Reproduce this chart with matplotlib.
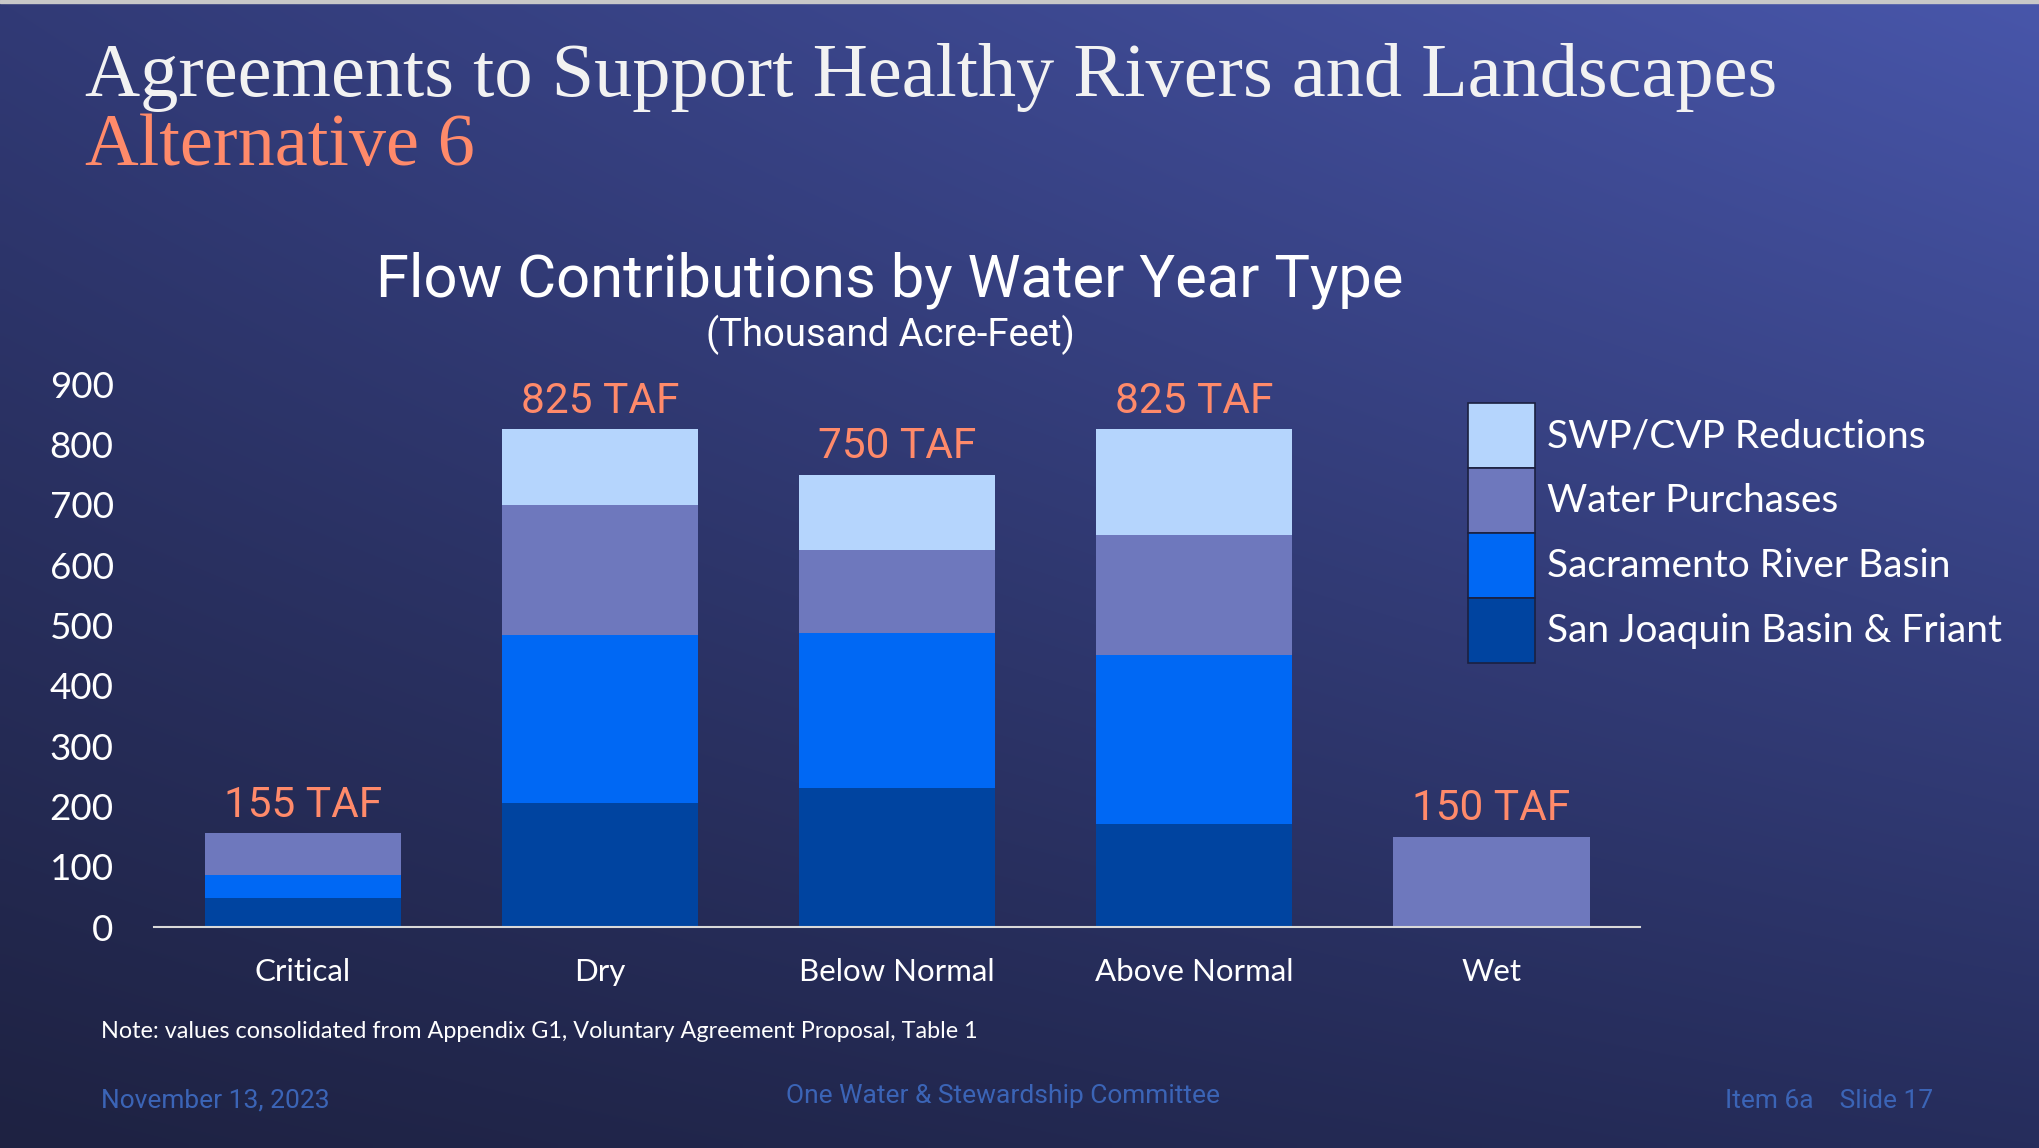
import numpy as np
import matplotlib
matplotlib.use("Agg")
import matplotlib.pyplot as plt
from matplotlib.patches import Patch

# data (thousand acre-feet)
categories = ['Critical', 'Dry', 'Below Normal', 'Above Normal', 'Wet']
san_joaquin = [48, 206, 231, 171, 0]
sacramento = [38, 278, 256, 280, 0]
purchases = [69, 216, 138, 199, 150]
reductions = [0, 125, 125, 175, 0]
total_labels = ['155 TAF', '825 TAF', '750 TAF', '825 TAF', '150 TAF']
yticks = [0, 100, 200, 300, 400, 500, 600, 700, 800, 900]

series_names = ['San Joaquin Basin & Friant', 'Sacramento River Basin',
                'Water Purchases', 'SWP/CVP Reductions']
series_colors = ['#0044A0', '#0068F4', '#6E78BD', '#B5D5FD']

salmon = '#FF8A6A'
footer_blue = '#3B64B6'

fig = plt.figure(figsize=(20.4, 11.48), dpi=100)

# gradient background
bg = fig.add_axes([0, 0, 1, 1], zorder=-10)
bg.axis('off')
c_bl = np.array([0x1E, 0x22, 0x42]) / 255
c_br = np.array([0x26, 0x2D, 0x5C]) / 255
c_tl = np.array([0x31, 0x3A, 0x76]) / 255
c_tr = np.array([0x48, 0x56, 0xAA]) / 255
u = np.linspace(0, 1, 256)[None, :, None]
v = np.linspace(1, 0, 144)[:, None, None]
img = (c_bl * (1 - u) * (1 - v) + c_br * u * (1 - v)
       + c_tl * (1 - u) * v + c_tr * u * v)
bg.imshow(img, aspect='auto', extent=[0, 1, 0, 1], interpolation='bilinear')
bg.set_xlim(0, 1)
bg.set_ylim(0, 1)
bg.axhspan(0.9975, 1.0, color='#C8C8C8')

# slide titles
fig.text(0.0417, 0.916, 'Agreements to Support Healthy Rivers and Landscapes',
         family='Liberation Serif', fontsize=55, color='#F2F2F2', va='baseline')
fig.text(0.0417, 0.856, 'Alternative 6', family='Liberation Serif',
         fontsize=53.5, color=salmon, va='baseline')

fig.text(0.4363, 0.742, 'Flow Contributions by Water Year Type', family='Roboto',
         fontsize=43, color='white', ha='center', va='baseline')
fig.text(0.4363, 0.7087, '(Thousand Acre-Feet)', family='Roboto',
         fontsize=27.5, color='white', ha='center', va='center')

# chart
ax = fig.add_axes([0.0755, 0.1925, 0.7285, 0.4730])
ax.set_facecolor('none')
x = np.arange(len(categories))
bottom = np.zeros(len(categories))
handles = []
for vals, name, col in zip([san_joaquin, sacramento, purchases, reductions],
                           series_names, series_colors):
    vals = np.array(vals, dtype=float)
    ax.bar(x, vals, 0.66, bottom=bottom, color=col, edgecolor='none')
    bottom += vals
    handles.append(Patch(facecolor=col, edgecolor='#1B2040', linewidth=1.2, label=name))

for xi, top, lab in zip(x, bottom, total_labels):
    ax.annotate(lab, (xi, top), xytext=(0, 20), textcoords='offset points',
                ha='center', va='center', family='Roboto', fontsize=30.5, color=salmon)

ax.set_xlim(-0.5, 4.5)
ax.set_ylim(0, 900)
ax.set_yticks(yticks)
ax.set_xticks(x)
ax.set_xticklabels(categories)
for s in ['top', 'right', 'left']:
    ax.spines[s].set_visible(False)
ax.spines['bottom'].set_color('#D9D9D9')
ax.spines['bottom'].set_linewidth(1.5)
ax.tick_params(axis='y', length=0, pad=29, labelsize=26.5, labelcolor='white')
ax.tick_params(axis='x', length=0, pad=22, labelsize=22.5, labelcolor='white')
for t in ax.get_yticklabels() + ax.get_xticklabels():
    t.set_family('Lato')

leg = ax.legend(handles=handles[::-1], loc='upper left',
                bbox_to_anchor=(1468 / 2040, 1 - 403 / 1148),
                bbox_transform=fig.transFigure, frameon=False,
                labelcolor='white', prop={'family': 'Lato', 'size': 28},
                handleheight=2.19, handlelength=1.72, labelspacing=0,
                handletextpad=0.3, borderpad=0, borderaxespad=0)

# notes and footer
fig.text(0.0495, 0.1013, 'Note: values consolidated from Appendix G1, Voluntary Agreement Proposal, Table 1',
         family='Lato', fontsize=16.8, color='white', va='center')
fig.text(0.0495, 0.0413, 'November 13, 2023', family='Roboto', fontsize=19,
         color=footer_blue, va='center')
fig.text(0.4917, 0.0457, 'One Water & Stewardship Committee', family='Roboto',
         fontsize=19, color=footer_blue, va='center', ha='center')
fig.text(0.9476, 0.0413, 'Item 6a    Slide 17', family='Roboto', fontsize=19,
         color=footer_blue, va='center', ha='right')

fig.savefig('out.png', dpi=100)
